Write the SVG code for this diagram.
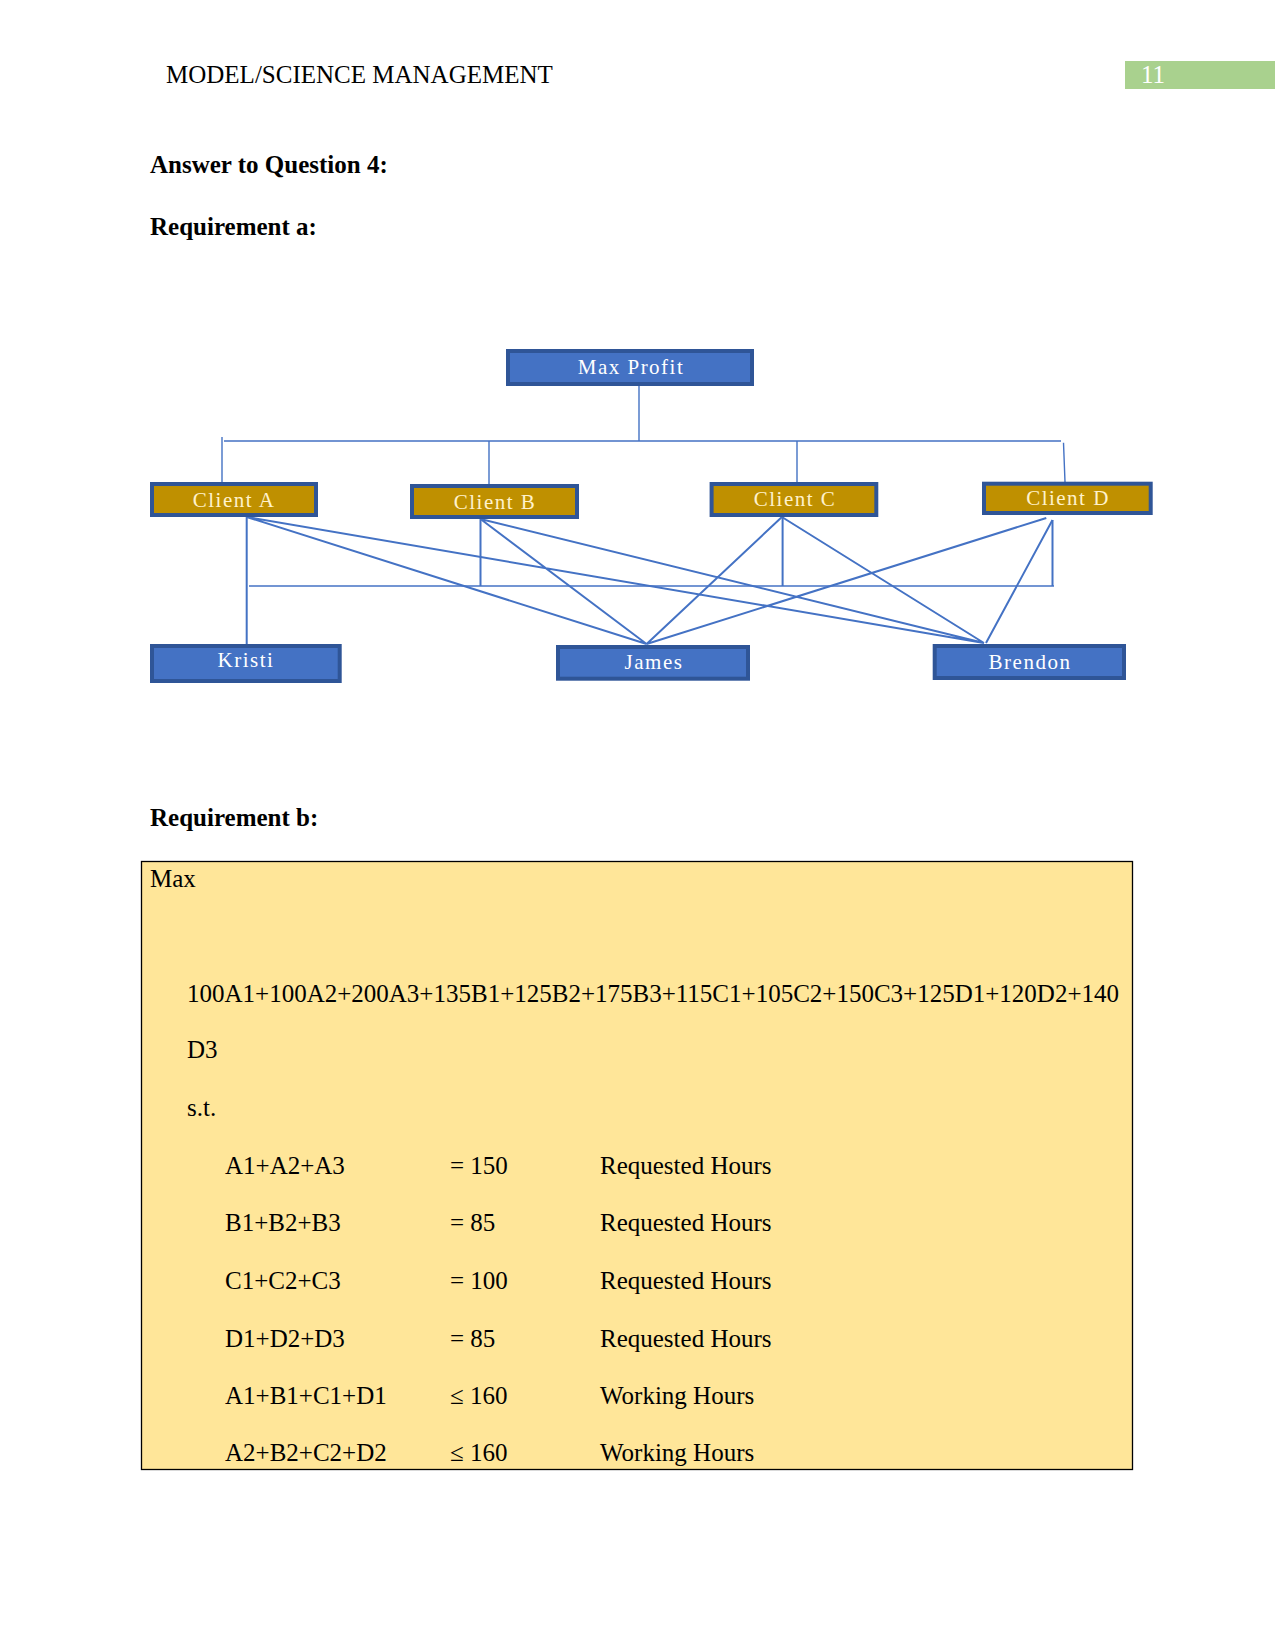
<svg xmlns="http://www.w3.org/2000/svg" width="1275" height="1650" viewBox="0 0 1275 1650">
<style>
.doc{font-family:"Liberation Serif","Times New Roman",serif;font-size:25px;fill:#000}
.b{font-weight:bold}
.blue rect{fill:#4472c4;stroke:#2f5597;stroke-width:4}
.gold rect{fill:#bf9000;stroke:#2f5597;stroke-width:4}
.lbl{font-family:"Liberation Serif","Times New Roman",serif;font-size:21px;letter-spacing:1.5px;text-anchor:middle}
.blue .lbl{fill:#ffffff}
.gold .lbl{fill:#fff2cc}
.c{stroke:#4472c4;fill:none}
.thin{stroke-width:1.4}
.thick{stroke-width:2}
</style>
<rect width="1275" height="1650" fill="#fff"/>
<text class="doc" x="166" y="83">MODEL/SCIENCE MANAGEMENT</text>
<rect x="1125" y="61" width="150" height="28" fill="#a9d18e"/>
<text class="doc" x="1141" y="83" style="fill:#fff">11</text>
<text class="doc b" x="150" y="173">Answer to Question 4:</text>
<text class="doc b" x="150" y="235">Requirement a:</text>

<g id="connectors">
<path class="c thin" d="M639 386V441M224 441H1061M222 437V483M489 441V484M797 441V482M1063.5 442.7L1065 482"/>
<path class="c thin" d="M249 586H1054"/>
<path class="c thick" d="M246.7 517V644M480.5 519V586M782.6 517V586M1052.5 520V586"/>
<path class="c thick" d="M246.7 517L646.6 644M246.7 517L984 643M480.5 519L646.6 644M480.5 519L984 643M781.9 517L646.6 644M781.9 517L984 643M1046.3 518L646.6 644M1052.5 520L986 643"/>
</g>

<g id="max-profit" class="blue"><rect x="508" y="351" width="244" height="33"/><text class="lbl" x="631" y="374">Max Profit</text></g>
<g id="client-a" class="gold"><rect x="152" y="484" width="164" height="31"/><text class="lbl" x="234" y="507">Client A</text></g>
<g id="client-b" class="gold"><rect x="412" y="486" width="165" height="31"/><text class="lbl" x="495" y="509">Client B</text></g>
<g id="client-c" class="gold"><rect x="711.6" y="484" width="164.7" height="31"/><text class="lbl" x="795" y="506">Client C</text></g>
<g id="client-d" class="gold"><rect x="984" y="483.7" width="166.7" height="29.3"/><text class="lbl" x="1068" y="505">Client D</text></g>
<g id="kristi" class="blue"><rect x="152" y="646" width="187.7" height="35"/><text class="lbl" x="246" y="667">Kristi</text></g>
<g id="james" class="blue"><rect x="558" y="647" width="190" height="31.7"/><text class="lbl" x="654" y="669">James</text></g>
<g id="brendon" class="blue"><rect x="934.7" y="646" width="189.3" height="32"/><text class="lbl" x="1030" y="669">Brendon</text></g>

<text class="doc b" x="150" y="826">Requirement b:</text>
<rect x="141.5" y="861.5" width="991" height="608" fill="#ffe699" stroke="#000" stroke-width="1.3"/>
<text class="doc" x="150" y="887">Max</text>
<text class="doc" x="187" y="1002">100A1+100A2+200A3+135B1+125B2+175B3+115C1+105C2+150C3+125D1+120D2+140</text>
<text class="doc" x="187" y="1058">D3</text>
<text class="doc" x="187" y="1116">s.t.</text>
<g class="doc">
<text x="225" y="1174">A1+A2+A3</text><text x="450" y="1174">= 150</text><text x="600" y="1174">Requested Hours</text>
<text x="225" y="1231">B1+B2+B3</text><text x="450" y="1231">= 85</text><text x="600" y="1231">Requested Hours</text>
<text x="225" y="1289">C1+C2+C3</text><text x="450" y="1289">= 100</text><text x="600" y="1289">Requested Hours</text>
<text x="225" y="1347">D1+D2+D3</text><text x="450" y="1347">= 85</text><text x="600" y="1347">Requested Hours</text>
<text x="225" y="1404">A1+B1+C1+D1</text><text x="450" y="1404">≤ 160</text><text x="600" y="1404">Working Hours</text>
<text x="225" y="1461">A2+B2+C2+D2</text><text x="450" y="1461">≤ 160</text><text x="600" y="1461">Working Hours</text>
</g>
</svg>
